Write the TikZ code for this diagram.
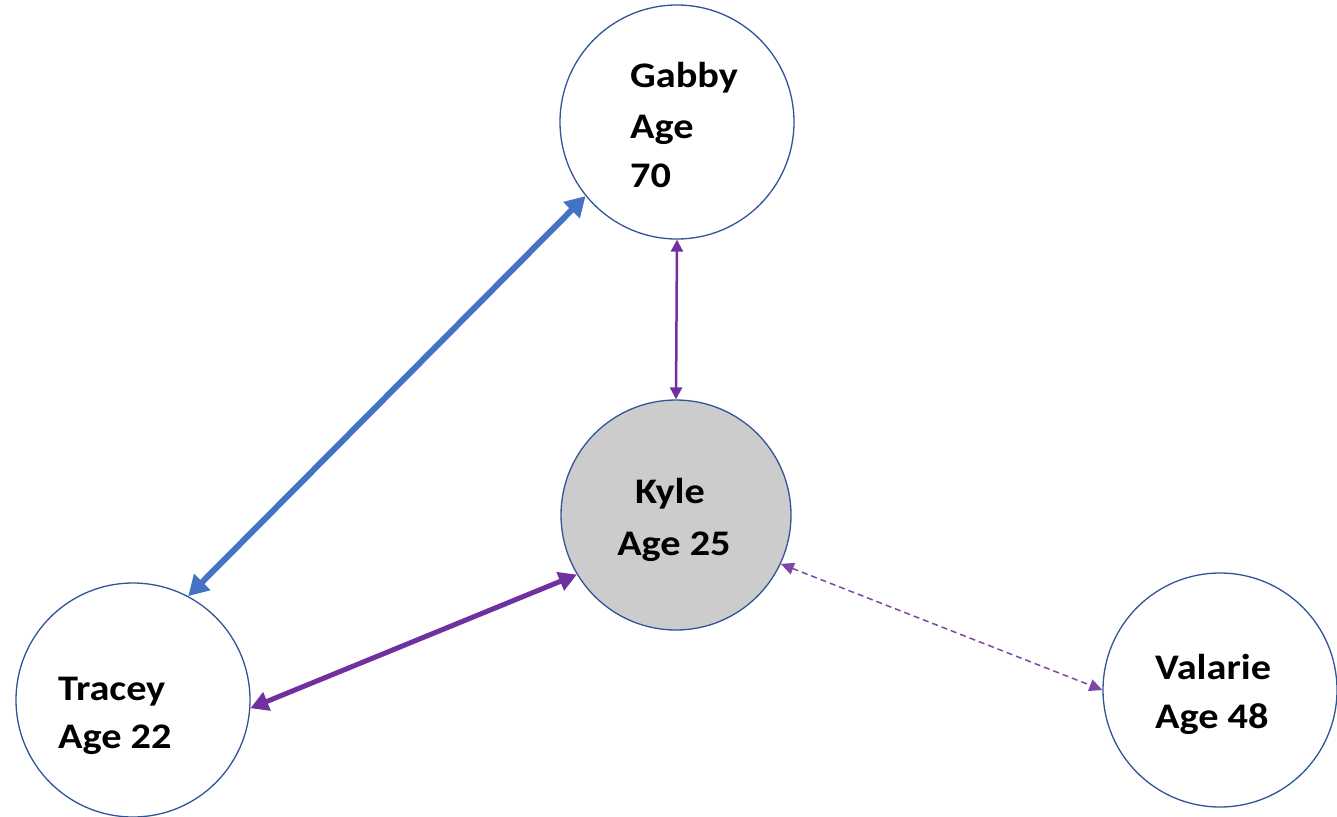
\documentclass[tikz,border=0pt]{standalone}
\usepackage{fontspec}
\setmainfont{Carlito}[FakeStretch=1.12]
\usetikzlibrary{arrows.meta}
\definecolor{ringblue}{HTML}{2F5597}
\definecolor{linkblue}{HTML}{4472C4}
\definecolor{linkpurple}{HTML}{7030A0}
\definecolor{kylegray}{HTML}{CCCCCC}
\tikzset{
  person/.style={circle, draw=ringblue, line width=1.3pt, minimum size=234pt, inner sep=0pt, fill=white},
  lbl/.style={font=\fontsize{36}{42}\selectfont\bfseries, inner sep=0pt, text=black},
  bigblue/.style={draw=linkblue, line width=6pt, {Triangle[length=20pt,width=22pt]}-{Triangle[length=20pt,width=22pt]}},
  bigpurple/.style={draw=linkpurple, line width=5pt, {Triangle[length=18pt,width=19pt]}-{Triangle[length=18pt,width=19pt]}},
  thinpurple/.style={draw=linkpurple, line width=2.5pt, {Triangle[length=12pt,width=12pt]}-{Triangle[length=12pt,width=12pt]}},
  dashpurple/.style={draw=linkpurple!90, line width=1.5pt, dash pattern=on 6pt off 4pt, {Triangle[length=13pt,width=12pt]}-{Triangle[length=13pt,width=12pt]}}
}
\begin{document}
\begin{tikzpicture}[x=1pt,y=-1pt]
\useasboundingbox (0,0) rectangle (1337,816);
\node[person] (g) at (677,122) {};
\node[person, fill=kylegray, minimum size=230pt] (k) at (676,515) {};
\node[person] (t) at (133,700) {};
\node[person] (v) at (1220,690) {};
% texts
\node[lbl, anchor=base west] (g1) at (630,87) {Gabby};
\node[lbl, anchor=base west] (g2) at (630,138) {Age};
\node[lbl, anchor=base west] (g3) at (630,187) {70};
\node[lbl, anchor=base] (k1) at (670,503) {Kyle};
\node[lbl, anchor=base] (k2) at (674,555) {Age 25};
\node[lbl, anchor=base west] (t1) at (58,700) {Tracey};
\node[lbl, anchor=base west] (t2) at (58,748) {Age 22};
\node[lbl, anchor=base west] (v1) at (1155,679) {Valarie};
\node[lbl, anchor=base west] (v2) at (1155,728) {Age 48};
% connectors
\draw[bigblue] (g.219) -- (t.62);
\draw[thinpurple] (g.south) -- (k.north);
\draw[bigpurple] (t.-4) -- (k.211);
\draw[dashpurple] (k.-25) -- (v.180);
\end{tikzpicture}
\end{document}
